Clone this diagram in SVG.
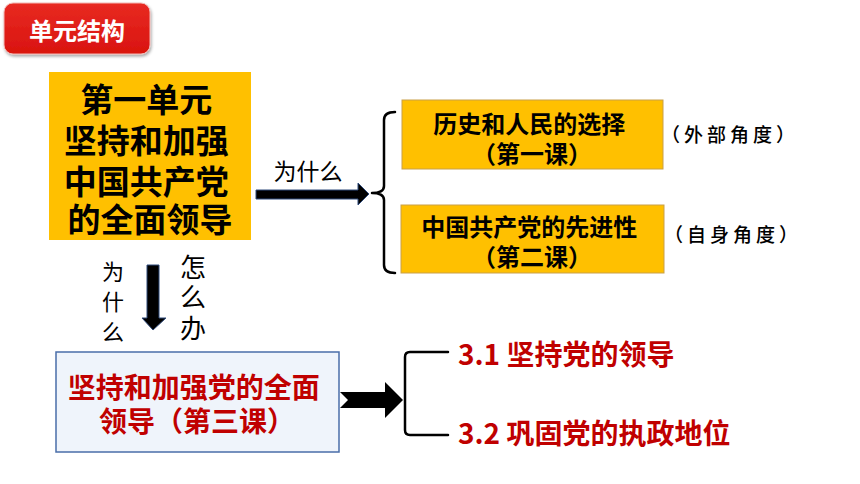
<svg xmlns="http://www.w3.org/2000/svg" width="860" height="484" viewBox="0 0 860 484">
<defs>
<style>
.cjk{font-family:"Noto Sans CJK SC","Liberation Sans",sans-serif;}
.b{font-weight:bold;}
.c{text-anchor:middle;dominant-baseline:central;}
.l{dominant-baseline:central;}
.v{writing-mode:vertical-rl;}
.orange{fill:#FFC000;stroke:#C9A048;stroke-width:1;}
.brace{fill:none;stroke:#000;stroke-width:2.5;stroke-linejoin:round;stroke-linecap:round;}
.arrow{fill:#000;stroke:#2F4A7A;stroke-width:1;}
.red{fill:#C00000;}
.note{font-size:19px;letter-spacing:4px;font-weight:500;}
</style>
<filter id="sh" x="-10%" y="-10%" width="130%" height="140%">
<feDropShadow dx="1" dy="2" stdDeviation="1.5" flood-color="#000" flood-opacity="0.35"/>
</filter>
<linearGradient id="rg" x1="0" y1="0" x2="0" y2="1">
<stop offset="0" stop-color="#E82A22"/>
<stop offset="1" stop-color="#D9140F"/>
</linearGradient>
</defs>
<rect width="860" height="484" fill="#fff"/>

<g id="title">
<rect x="4" y="3" width="146" height="51" rx="9" fill="url(#rg)" stroke="#F2B8B5" stroke-width="1" filter="url(#sh)"/>
<text x="77" y="29" class="cjk b c" font-size="24" fill="#fff">单元结构</text>
</g>

<g id="unit1">
<rect x="49" y="72" width="202" height="168" fill="#FFC000"/>
<text class="cjk b c" font-size="33" fill="#000">
<tspan x="150" y="98">第一单元</tspan>
<tspan x="150" y="139">坚持和加强</tspan>
<tspan x="150" y="180">中国共产党</tspan>
<tspan x="150" y="218">的全面领导</tspan>
</text>
</g>

<g id="lesson1">
<rect x="402" y="100" width="261" height="69" class="orange"/>
<text class="cjk b c" font-size="24" fill="#000">
<tspan x="532" y="122">历史和人民的选择</tspan>
<tspan x="532" y="152">（第一课）</tspan>
</text>
</g>

<g id="lesson2">
<rect x="401" y="205" width="263" height="68" class="orange"/>
<text class="cjk b c" font-size="24" fill="#000">
<tspan x="532" y="225">中国共产党的先进性</tspan>
<tspan x="532" y="255">（第二课）</tspan>
</text>
</g>

<g id="note1">
<text x="730" y="133" class="cjk c note" fill="#000">（外部角度）</text>
</g>
<g id="note2">
<text x="733" y="233" class="cjk c note" fill="#000">（自身角度）</text>
</g>

<g id="lesson3">
<rect x="56" y="352" width="283" height="100" fill="#EFF4FB" stroke="#4A6EA9" stroke-width="1.5"/>
<text class="cjk b c red" font-size="28">
<tspan x="197" y="386">坚持和加强党的全面</tspan>
<tspan x="197" y="420">领导（第三课）</tspan>
</text>
</g>

<g id="sub1">
<text x="458" y="353" class="cjk b l red" font-size="28">3.1 坚持党的领导</text>
</g>
<g id="sub2">
<text x="458" y="432" class="cjk b l red" font-size="28">3.2 巩固党的执政地位</text>
</g>

<g id="connectors">
<path class="arrow" d="M256 190 L358 190 L358 183 L369 194 L358 205 L358 199 L256 199 Z"/>
<text x="308" y="170" class="cjk c" font-size="23" fill="#000">为什么</text>
<path class="brace" d="M395 112 Q384 112 384 120 L384 186 Q384 193 372 193 Q384 193 384 200 L384 265 Q384 273 395 273"/>

<path class="arrow" d="M147 265 L159 265 L159 318 L166 318 L153 330 L142 318 L147 318 Z"/>
<text x="113" y="261" class="cjk v" font-size="22" letter-spacing="8" fill="#000">为什么</text>
<text x="193" y="254" class="cjk v" font-size="26" letter-spacing="4.5" fill="#000">怎么办</text>

<path d="M340 392 L385 392 L385 382 L403 400 L385 418 L385 408 L340 408 L348 400 Z" fill="#000"/>
<path class="brace" d="M448 352 L410 352 Q405 352 405 357 L405 430 Q405 435 410 435 L448 435"/>
</g>
</svg>
